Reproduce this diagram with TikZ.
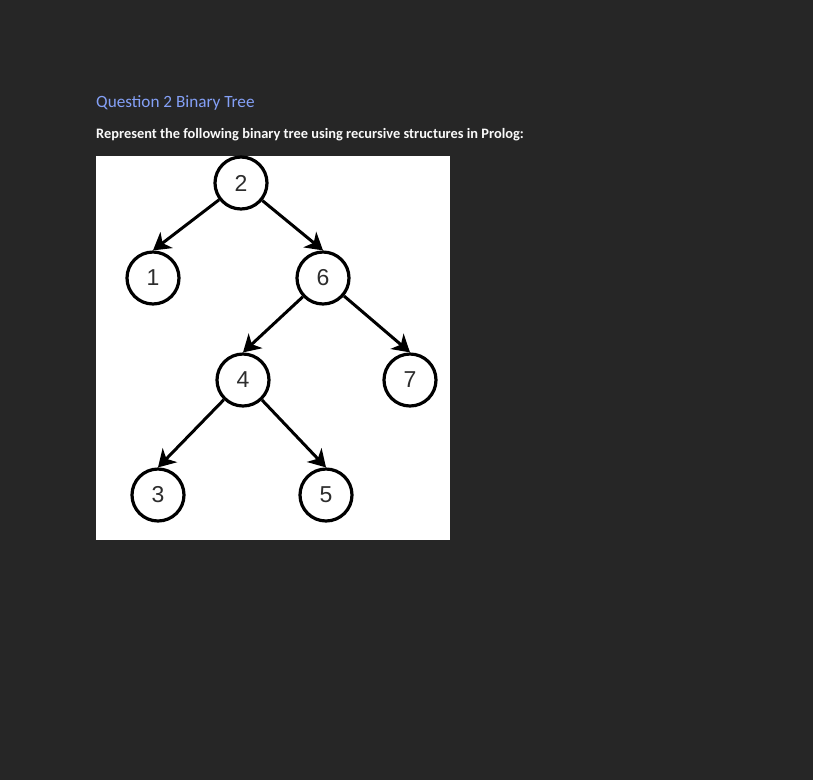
\documentclass[tikz,border=0pt]{standalone}
\usepackage{fontspec}
\setmainfont{Carlito}
\newfontfamily\digitfont{Liberation Sans}
\definecolor{BackColor}{RGB}{38,38,38}
\definecolor{TitleColor}{RGB}{132,160,246}
\definecolor{TextColor}{RGB}{250,250,250}
\definecolor{DigitColor}{RGB}{45,45,45}
\usetikzlibrary{arrows.meta}
\tikzstyle{treenode} = [circle, draw=black, line width=3.2pt, fill=white, minimum size=52pt, inner sep=0pt, text=DigitColor, font=\digitfont\fontsize{23}{23}\selectfont]
\tikzstyle{arrow} = [line width=3pt, black, -{Stealth[length=17pt, width=20pt, inset=5pt]}]

\begin{document}
\begin{tikzpicture}[x=1pt, y=-1pt]
        % Page
        \fill[BackColor] (0,0) rectangle (813,780);
        \useasboundingbox (0,0) rectangle (813,780);

        % Heading
        \node[anchor=base west, inner sep=0pt, text=TitleColor, font=\fontsize{17.2}{19}\selectfont] (title) at (96,107) {Question 2 Binary Tree};
        \node[anchor=base west, inner sep=0pt, text=TextColor, font=\bfseries\fontsize{14.4}{16}\selectfont] (task) at (96,138) {Represent the following binary tree using recursive structures in Prolog:};

        % Picture panel
        \fill[white] (96,156) rectangle (450,540);

        % Nodes
        \node[treenode] (n2) at (241,183) {2};
        \node[treenode] (n1) at (153,278) {1};
        \node[treenode] (n6) at (323,278) {6};
        \node[treenode] (n4) at (243,380) {4};
        \node[treenode] (n7) at (410,380) {7};
        \node[treenode] (n3) at (158,495) {3};
        \node[treenode] (n5) at (326,495) {5};

        % Branches
        \draw[arrow] (n2) -- (n1.north);
        \draw[arrow] (n2) -- (n6.north);
        \draw[arrow] (n6) -- (n4.north);
        \draw[arrow] (n6) -- (n7.north);
        \draw[arrow] (n4) -- (n3.north);
        \draw[arrow] (n4) -- (n5.north);

      \end{tikzpicture}
\end{document}
